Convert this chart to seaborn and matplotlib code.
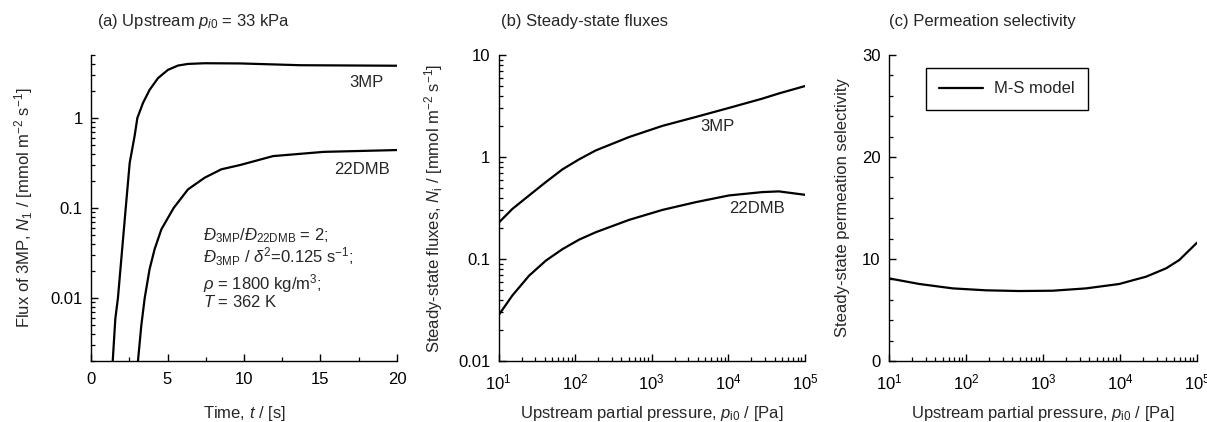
import numpy as np
import pandas as pd
import matplotlib
matplotlib.use("Agg")
import matplotlib.pyplot as plt
import matplotlib.ticker as mticker
import seaborn as sns

# ---------------- data ----------------
# (a) transient fluxes at p_i0 = 33 kPa
t_3mp = [1.42, 1.59, 1.76, 1.98, 2.27, 2.53, 2.85, 3.03, 3.4, 3.83, 4.38, 5.03, 5.69, 6.34, 7.43, 9.74, 13.7, 20.0]
n_3mp = [0.002, 0.0059, 0.01, 0.027, 0.1, 0.318, 0.63, 1.0, 1.47, 2.05, 2.77, 3.42, 3.82, 3.98, 4.05, 4.03, 3.85, 3.8]
t_22dmb = [3.07, 3.29, 3.51, 3.83, 4.16, 4.6, 5.4, 6.34, 7.43, 8.52, 9.74, 11.9, 15.2, 20.0]
n_22dmb = [0.002, 0.005, 0.01, 0.021, 0.035, 0.058, 0.1, 0.161, 0.217, 0.269, 0.30, 0.377, 0.42, 0.44]

# (b) steady-state fluxes vs upstream partial pressure
p_ss = [10, 15.2, 25.1, 41.5, 68.4, 113, 186, 507, 1380, 3770, 10200, 27900, 45700, 100000]
ss_3mp = [0.226, 0.31, 0.42, 0.568, 0.757, 0.95, 1.16, 1.57, 2.02, 2.47, 3.03, 3.74, 4.2, 4.96]
ss_22dmb = [0.028, 0.044, 0.0687, 0.0964, 0.125, 0.155, 0.183, 0.242, 0.303, 0.361, 0.42, 0.453, 0.46, 0.426]

# (c) permeation selectivity
p_sel = [10, 24.8, 67.1, 182, 490, 1334, 3631, 9772, 21878, 39811, 58884, 100000]
sel = [8.1, 7.55, 7.12, 6.93, 6.86, 6.89, 7.12, 7.55, 8.27, 9.09, 9.9, 11.6]

# ---------------- style ----------------
sns.set_theme(style="ticks")
plt.rcParams['font.family'] = ['Liberation Sans', 'DejaVu Sans']
plt.rcParams.update({
    'mathtext.fontset': 'custom',
    'mathtext.rm': 'Liberation Sans',
    'mathtext.it': 'Liberation Sans:italic',
    'mathtext.bf': 'Liberation Sans:bold',
    'axes.edgecolor': 'black',
    'axes.linewidth': 1.0,
    'xtick.color': 'black',
    'ytick.color': 'black',
    'xtick.direction': 'in',
    'ytick.direction': 'in',
    'xtick.major.size': 5,
    'ytick.major.size': 5,
    'xtick.minor.size': 3,
    'ytick.minor.size': 3,
    'xtick.major.width': 1.0,
    'ytick.major.width': 1.0,
    'xtick.minor.width': 0.9,
    'ytick.minor.width': 0.9,
    'xtick.major.pad': 8,
    'ytick.major.pad': 6,
})
FS = 12

W, H = 1207, 422
fig = plt.figure(figsize=(W / 100, H / 100), dpi=100)

def make_ax(left, right, top=55, bottom=361):
    return fig.add_axes([left / W, (H - bottom) / H, (right - left) / W, (bottom - top) / H])

axa = make_ax(91, 397)
axb = make_ax(498.5, 805)
axc = make_ax(889, 1197)

for ax in (axa, axb, axc):
    sns.despine(ax=ax)
    ax.tick_params(which='both', labelsize=FS)

lw = 1.6
# ---- (a)
df_a1 = pd.DataFrame({'t': t_3mp, 'N': n_3mp})
df_a2 = pd.DataFrame({'t': t_22dmb, 'N': n_22dmb})
sns.lineplot(data=df_a1, x='t', y='N', ax=axa, color='black', lw=lw, legend=False)
sns.lineplot(data=df_a2, x='t', y='N', ax=axa, color='black', lw=lw, legend=False)
axa.set_yscale('log')
axa.set_xlim(0, 20)
axa.set_ylim(0.002, 5)
axa.xaxis.set_major_locator(mticker.MultipleLocator(5))
axa.xaxis.set_minor_locator(mticker.MultipleLocator(2.5))
axa.yaxis.set_major_locator(mticker.FixedLocator([0.01, 0.1, 1]))
axa.yaxis.set_major_formatter(mticker.FixedFormatter(['0.01', '0.1', '1']))
axa.yaxis.set_minor_locator(mticker.LogLocator(base=10, subs=np.arange(2, 10)))
axa.yaxis.set_minor_formatter(mticker.NullFormatter())
axa.set_xlabel(r'Time, $\mathit{t}$ / [s]', fontsize=FS)
axa.set_ylabel(r'Flux of 3MP, $\mathit{N}_1$ / [mmol m$^{-2}$ s$^{-1}$]', fontsize=FS)
axa.xaxis.set_label_coords(0.5, -0.14)
axa.yaxis.set_label_coords(-0.183, 0.5)
axa.text(0.02, 1.108, r'(a) Upstream $\mathit{p}_{\mathit{i0}}$ = 33 kPa', transform=axa.transAxes,
         fontsize=FS, ha='left', va='center')
axa.text(18.0, 2.45, '3MP', fontsize=FS, ha='center', va='center')
axa.text(17.7, 0.27, '22DMB', fontsize=FS, ha='center', va='center')
ann = [(0.395, r'$\mathit{Đ}_{\mathrm{3MP}}/\mathit{Đ}_{\mathrm{22DMB}}$ = 2;'),
       (0.322, r'$\mathit{Đ}_{\mathrm{3MP}}$ / $\mathit{δ}^2$=0.125 s$^{-1}$;'),
       (0.235, r'$\mathit{ρ}$ = 1800 kg/m$^3$;'),
       (0.178, r'$\mathit{T}$ = 362 K')]
for yy, s in ann:
    axa.text(0.366, yy, s, transform=axa.transAxes, fontsize=FS, ha='left', va='baseline')

# ---- (b)
df_b1 = pd.DataFrame({'p': p_ss, 'N': ss_3mp})
df_b2 = pd.DataFrame({'p': p_ss, 'N': ss_22dmb})
sns.lineplot(data=df_b1, x='p', y='N', ax=axb, color='black', lw=lw, legend=False)
sns.lineplot(data=df_b2, x='p', y='N', ax=axb, color='black', lw=lw, legend=False)
axb.set_xscale('log')
axb.set_yscale('log')
axb.set_xlim(10, 1e5)
axb.set_ylim(0.01, 10)
axb.yaxis.set_major_locator(mticker.FixedLocator([0.01, 0.1, 1, 10]))
axb.yaxis.set_major_formatter(mticker.FixedFormatter(['0.01', '0.1', '1', '10']))
for axis in (axb.xaxis, axb.yaxis):
    axis.set_minor_locator(mticker.LogLocator(base=10, subs=np.arange(2, 10)))
    axis.set_minor_formatter(mticker.NullFormatter())
axb.set_xlabel(r'Upstream partial pressure, $\mathit{p}_{\mathrm{i0}}$ / [Pa]', fontsize=FS)
axb.set_ylabel(r'Steady-state fluxes, $\mathit{N}_{\mathrm{i}}$ / [mmol m$^{-2}$ s$^{-1}$]', fontsize=FS)
axb.xaxis.set_label_coords(0.5, -0.14)
axb.yaxis.set_label_coords(-0.175, 0.5)
axb.text(0.007, 1.108, '(b) Steady-state fluxes', transform=axb.transAxes,
         fontsize=FS, ha='left', va='center')
axb.text(10 ** 3.86, 1.97, '3MP', fontsize=FS, ha='center', va='center')
axb.text(10 ** 4.38, 0.315, '22DMB', fontsize=FS, ha='center', va='center')

# ---- (c)
df_c = pd.DataFrame({'p': p_sel, 'S': sel})
sns.lineplot(data=df_c, x='p', y='S', ax=axc, color='black', lw=lw, label='M-S model')
axc.set_xscale('log')
axc.set_xlim(10, 1e5)
axc.set_ylim(0, 30)
axc.yaxis.set_major_locator(mticker.MultipleLocator(10))
axc.yaxis.set_minor_locator(mticker.MultipleLocator(2))
axc.xaxis.set_minor_locator(mticker.LogLocator(base=10, subs=np.arange(2, 10)))
axc.xaxis.set_minor_formatter(mticker.NullFormatter())
axc.set_xlabel(r'Upstream partial pressure, $\mathit{p}_{\mathrm{i0}}$ / [Pa]', fontsize=FS)
axc.set_ylabel('Steady-state permeation selectivity', fontsize=FS)
axc.xaxis.set_label_coords(0.5, -0.14)
axc.yaxis.set_label_coords(-0.127, 0.5)
axc.text(0.0, 1.108, '(c) Permeation selectivity', transform=axc.transAxes,
         fontsize=FS, ha='left', va='center')
leg = axc.legend(loc='upper left', bbox_to_anchor=(0.12, 0.957), borderaxespad=0,
                 frameon=True, fancybox=False, framealpha=1, edgecolor='black',
                 fontsize=FS, handlelength=2.6, borderpad=0.8, handletextpad=0.7)
leg.get_frame().set_linewidth(1.0)

fig.savefig('out.png', dpi=100)
